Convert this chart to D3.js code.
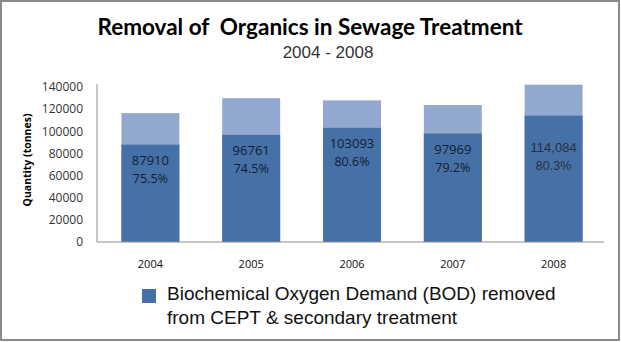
<!DOCTYPE html>
<html>
<head>
<meta charset="utf-8">
<script src="https://cdn.jsdelivr.net/npm/d3@7"></script>
<style>
  body { margin: 0; background: #fff; }
  svg { display: block; }
</style>
</head>
<body>
<svg id="chart" width="621" height="342"></svg>
<script>
// chart data
var years = ["2004", "2005", "2006", "2007", "2008"]
var removed = [87910, 96761, 103093, 97969, 114084]
var totals = [116400, 129900, 127900, 123700, 142100]
var valueLabels = ["87910", "96761", "103093", "97969", "114,084"]
var pctLabels = ["75.5%", "74.5%", "80.6%", "79.2%", "80.3%"]
var yTicks = [0, 20000, 40000, 60000, 80000, 100000, 120000, 140000]

var svg = d3.select("#chart")

// outer frame
svg.append("rect")
    .attr("x", 1).attr("y", 1)
    .attr("width", 618).attr("height", 339)
    .attr("fill", "#fff")
    .attr("stroke", "#8a8a8a")
    .attr("stroke-width", 2)

// titles
svg.append("text")
    .attr("x", 310).attr("y", 35)
    .attr("text-anchor", "middle")
    .style("font-family", "Lato, 'Open Sans', sans-serif")
    .style("font-weight", "bold")
    .style("font-size", "22.5px")
    .style("fill", "#000")
    .attr("xml:space", "preserve")
    .text("Removal of  Organics in Sewage Treatment")

svg.append("text")
    .attr("x", 328).attr("y", 58)
    .attr("text-anchor", "middle")
    .style("font-family", "'Liberation Sans', Arial, sans-serif")
    .style("font-size", "17px")
    .style("fill", "#333")
    .text("2004 - 2008")

var x = d3.scaleBand()
    .domain(years)
    .range([100, 604])
    .paddingInner(0.425)
    .paddingOuter(0.2125)

var y = d3.scaleLinear()
    .domain([0, 140000])
    .range([242, 87])

// y axis
var yAxis = d3.axisLeft(y)
    .tickValues(yTicks)
    .tickSize(0)
    .tickPadding(14)
    .tickFormat(d3.format("d"))

var gy = svg.append("g")
    .attr("transform", "translate(97,0)")
    .call(yAxis)
gy.select(".domain").attr("stroke", "#8c8c8c").attr("d", "M0,84V242")
gy.selectAll("text")
    .style("font-family", "'Open Sans', 'DejaVu Sans', sans-serif")
    .style("font-size", "12px")
    .style("fill", "#333")

svg.append("text")
    .attr("transform", "translate(31,160) rotate(-90)")
    .attr("text-anchor", "middle")
    .style("font-family", "'Open Sans', 'DejaVu Sans', sans-serif")
    .style("font-weight", "bold")
    .style("font-size", "10.5px")
    .style("fill", "#000")
    .text("Quantity (tonnes)")

// bars: total in light blue, removed in dark blue
var bars = svg.append("g")

bars.selectAll(".total")
    .data(years)
    .enter()
    .append("rect")
    .attr("class", "total")
    .attr("x", function(d) { return x(d) })
    .attr("width", x.bandwidth())
    .attr("y", function(d, i) { return y(totals[i]) })
    .attr("height", function(d, i) { return y(0) - y(totals[i]) })
    .attr("fill", "#93a8cf")

bars.selectAll(".removed")
    .data(years)
    .enter()
    .append("rect")
    .attr("class", "removed")
    .attr("x", function(d) { return x(d) })
    .attr("width", x.bandwidth())
    .attr("y", function(d, i) { return y(removed[i]) })
    .attr("height", function(d, i) { return y(0) - y(removed[i]) })
    .attr("fill", "#4571a6")

// x axis
var xAxis = d3.axisBottom(x).tickSize(0).tickPadding(18)
var gx = svg.append("g")
    .attr("transform", "translate(0,242)")
    .call(xAxis)
gx.select(".domain").attr("stroke", "#8c8c8c").attr("d", "M97,0H604")
gx.selectAll("text")
    .style("font-family", "'Open Sans', 'DejaVu Sans', sans-serif")
    .style("font-size", "11px")
    .style("fill", "#111")

// data labels inside bars
var labels = svg.append("g")
labels.selectAll(".val")
    .data(years)
    .enter()
    .append("text")
    .attr("class", "val")
    .attr("x", function(d) { return x(d) + x.bandwidth() / 2 })
    .attr("y", function(d, i) { return y(removed[i]) + (i == 4 ? 36 : 20) })
    .attr("text-anchor", "middle")
    .style("font-family", function(d, i) { return i == 4 ? "'Liberation Sans', Arial, sans-serif" : "'Open Sans', 'DejaVu Sans', sans-serif" })
    .style("font-size", "13px")
    .style("fill", function(d, i) { return i == 4 ? "#2b2f3a" : "#121c33" })
    .text(function(d, i) { return valueLabels[i] })

labels.selectAll(".pct")
    .data(years)
    .enter()
    .append("text")
    .attr("class", "pct")
    .attr("x", function(d) { return x(d) + x.bandwidth() / 2 })
    .attr("y", function(d, i) { return y(removed[i]) + (i == 4 ? 54 : 38) })
    .attr("text-anchor", "middle")
    .style("font-family", function(d, i) { return i == 4 ? "'Liberation Sans', Arial, sans-serif" : "'Open Sans', 'DejaVu Sans', sans-serif" })
    .style("font-size", "12.5px")
    .style("fill", function(d, i) { return i == 4 ? "#2b2f3a" : "#121c33" })
    .text(function(d, i) { return pctLabels[i] })

// legend
svg.append("rect")
    .attr("x", 142).attr("y", 289)
    .attr("width", 14).attr("height", 14)
    .attr("fill", "#4571a6")

var legend = svg.append("text")
    .style("font-family", "'Liberation Sans', Arial, sans-serif")
    .style("font-size", "19px")
    .style("fill", "#111")
legend.append("tspan").attr("x", 167).attr("y", 300)
    .text("Biochemical Oxygen Demand (BOD) removed")
legend.append("tspan").attr("x", 167).attr("y", 324)
    .text("from CEPT & secondary treatment")
</script>
</body>
</html>
